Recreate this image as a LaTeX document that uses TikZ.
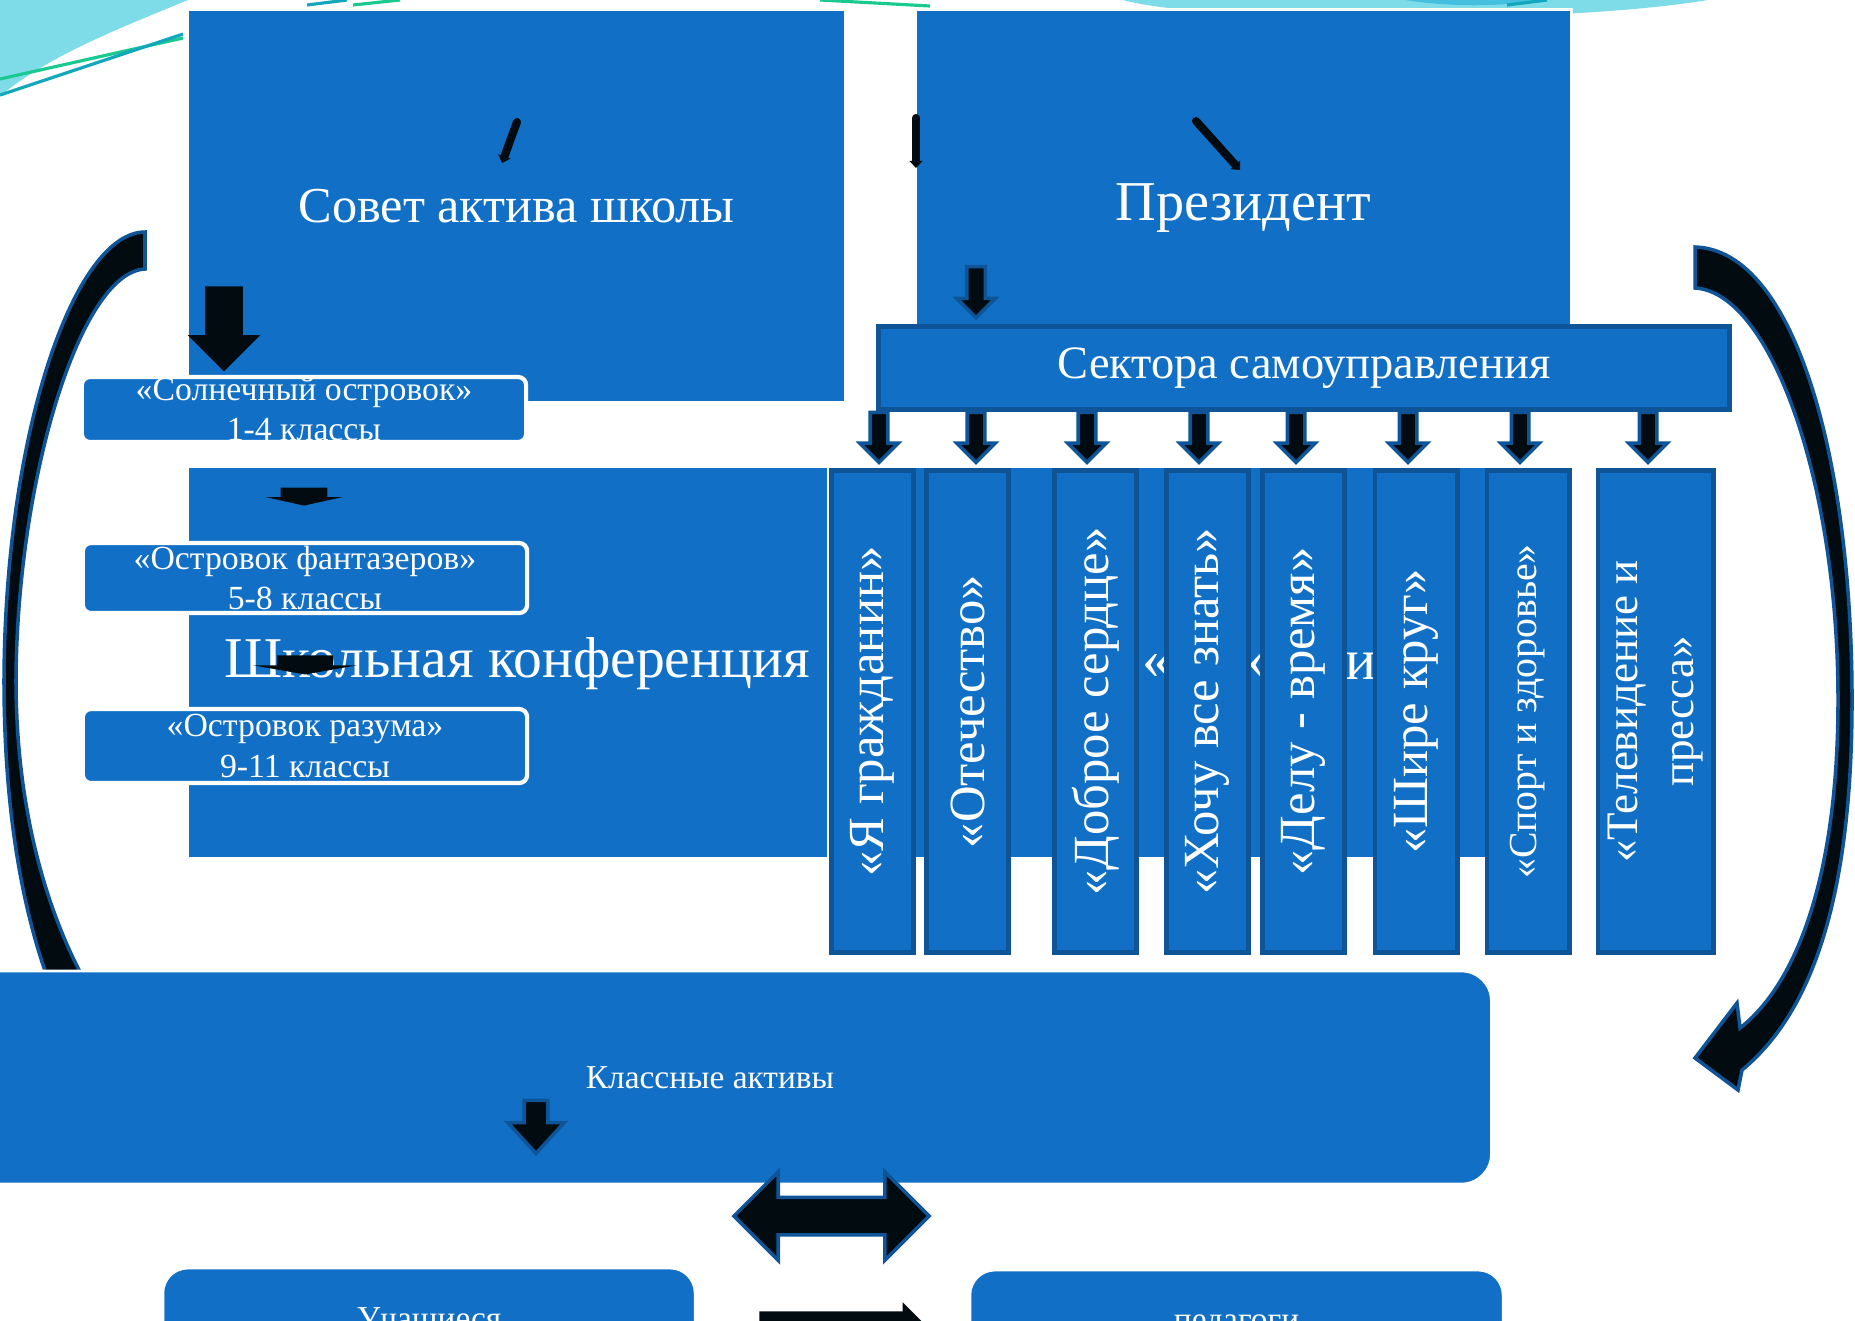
\documentclass[tikz,border=0pt]{standalone}
\usepackage{fontspec}
\setmainfont{Liberation Serif}
\usepackage{xcolor}
\usepackage{tikz}
\usetikzlibrary{shapes,arrows}
\usetikzlibrary{positioning}
\usetikzlibrary{arrows.meta}
\tikzset{>=stealth}
\definecolor{panelblue}{HTML}{1170C6}
\definecolor{edgeblue}{HTML}{0F5496}
\definecolor{arrowblack}{HTML}{020B10}
\definecolor{swoosh}{HTML}{7EDCE8}
\definecolor{swooshdark}{HTML}{45BFE0}
\definecolor{linegreen}{HTML}{19C98F}
\definecolor{lineteal}{HTML}{12A7BC}
\tikzstyle{panel} = [draw=white, line width=0.8pt, fill=panelblue, text=white,
inner sep=0pt, align=center]
\tikzstyle{line} = [draw=arrowblack, line width=2.3pt, line cap=round,
-{Triangle[width=3.6pt,length=2pt]}]

\begin{document}
\begin{tikzpicture}[x=0.01cm, y=-0.01cm,
  island/.style={panel, line width=1.2pt, rounded corners=0.08cm,
  minimum width=4.44cm, font=\fontsize{9.6pt}{11.4pt}\selectfont},
  sectorbar/.style={panel, draw=edgeblue, line width=1.4pt, rotate=90,
  minimum width=4.81cm, minimum height=0.82cm,
  font=\fontsize{14.4pt}{16pt}\selectfont},
  blockdown/.style={single arrow, rotate=-90, inner xsep=0pt,
  fill=arrowblack, draw=edgeblue, line width=1pt, single arrow tip angle=90},
  sectordown/.style={blockdown, minimum height=0.5cm, minimum width=0.35cm,
  inner ysep=0.07cm, single arrow head extend=0.105cm},
  bigfont/.style={font=\fontsize{16.4pt}{19pt}\selectfont}]
  \useasboundingbox (0,0) rectangle (1855,1320);
  \clip (0,0) rectangle (1855,1320);
  \fill [white] (0,0) rectangle (1855,1320);
  %% Background swooshes
  \fill [swoosh] (0,0) -- (188,0) .. controls (120,28) and (50,55) .. (0,96) -- cycle;
  \fill [swoosh] (1123,0) .. controls (1200,22) and (1550,26) .. (1708,0) -- cycle;
  \fill [swooshdark] (1405,0) .. controls (1450,7) and (1500,7) .. (1540,0) -- cycle;
  \draw [linegreen, line width=0.9pt] (0,79) -- (183,38);
  \draw [lineteal, line width=0.9pt] (0,95) -- (183,34);
  \draw [lineteal, line width=0.9pt] (307,5) -- (347,0);
  \draw [linegreen, line width=0.9pt] (353,5) -- (400,0);
  \draw [linegreen, line width=0.9pt] (820,0) -- (930,6);
  \draw [lineteal, line width=0.9pt] (1507,5) -- (1547,0);
  %% Top panels
  \node [panel, minimum width=6.57cm, minimum height=3.92cm,
  font=\fontsize{14.3pt}{17pt}\selectfont] (sovet) at (516.5,206)
  {Совет актива школы};
  \node [panel, minimum width=6.55cm, minimum height=3.96cm,
  font=\fontsize{16pt}{19pt}\selectfont] (prez) at (1243.5,208)
  {Президент};
  \coordinate (sovet_a) at (517,122);
  \coordinate (sovet_b) at (502,163);
  \coordinate (prez_a) at (916,118);
  \coordinate (prez_b) at (916,168);
  \coordinate (prez_c) at (1196,121);
  \coordinate (prez_d) at (1240,170);
  \path [line] (sovet_a) to (sovet_b);
  \path [line] (prez_a) to (prez_b);
  \path [line] (prez_c) to (prez_d);
  %% Islands
  \node [blockdown, draw=none, minimum height=0.85cm, minimum width=0.69cm,
  inner ysep=0.17cm, single arrow head extend=0.175cm] (down_0) at (224,319.5) {};
  \node [island, minimum height=0.65cm] (isl_1) at (304,409.5)
  {«Солнечный островок»\\1-4 классы};
  \node [panel, minimum width=6.41cm, minimum height=3.91cm]
  (konf) at (508.5,662.5) {};
  \node [panel, minimum width=7.43cm, minimum height=3.91cm]
  (konf_2) at (1200.5,662.5) {};
  \node [text=white, bigfont, inner sep=0pt] (konf_text) at (517,664)
  {Школьная конференция};
  \node [blockdown, draw=none, single arrow tip angle=155,
  minimum height=0.18cm, minimum width=0.74cm, inner ysep=0.215cm,
  single arrow head extend=0.155cm] (down_1) at (304,494) {};
  \node [island, minimum height=0.7cm] (isl_2) at (305,578)
  {«Островок фантазеров»\\5-8 классы};
  \node [blockdown, draw=none, single arrow tip angle=160,
  minimum height=0.19cm, minimum width=1cm, inner ysep=0.26cm,
  single arrow head extend=0.24cm] (down_2) at (305,662.5) {};
  \node [island, minimum height=0.74cm] (isl_3) at (305,746)
  {«Островок разума»\\9-11 классы};
  \node [text=white, bigfont] (frag_1) at (1157,666) {«};
  \node [text=white, bigfont] (frag_2) at (1262,666) {«};
  \node [text=white, bigfont] (frag_3) at (1361,666) {и};
  %% Sectors
  \node [panel, draw=edgeblue, line width=1.4pt, minimum width=8.5cm,
  minimum height=0.83cm, font=\fontsize{13.2pt}{16pt}\selectfont]
  (sektor) at (1304,368) {Сектора самоуправления};
  \node [blockdown, minimum height=0.51cm, minimum width=0.35cm,
  inner ysep=0.075cm, single arrow head extend=0.1cm] (down_p) at (976,287.5) {};
  \node [sectordown] (down_s1) at (879,433) {};
  \node [sectordown] (down_s2) at (976,433) {};
  \node [sectordown] (down_s3) at (1087,433) {};
  \node [sectordown] (down_s4) at (1199,433) {};
  \node [sectordown] (down_s5) at (1296,433) {};
  \node [sectordown] (down_s6) at (1408,433) {};
  \node [sectordown] (down_s7) at (1520,433) {};
  \node [sectordown] (down_s8) at (1648,433) {};
  \node [sectorbar] (bar_1) at (872.5,711.5) {«Я гражданин»};
  \node [sectorbar] (bar_2) at (967.5,711.5) {«Отечество»};
  \node [sectorbar] (bar_3) at (1095.5,711.5) {«Доброе сердце»};
  \node [sectorbar] (bar_4) at (1207.5,711.5) {«Хочу все знать»};
  \node [sectorbar] (bar_5) at (1303.5,711.5) {«Делу - время»};
  \node [sectorbar] (bar_6) at (1416,711.5) {«Шире круг»};
  \node [sectorbar, font=\fontsize{11.3pt}{14pt}\selectfont]
  (bar_7) at (1528,711.5) {«Спорт и здоровье»};
  \node [sectorbar, minimum height=1.15cm,
  font=\fontsize{12.8pt}{16pt}\selectfont]
  (bar_8) at (1655.5,711.5) {«Телевидение и\\пресса»};
  %% Curved arrows
  \filldraw [fill=arrowblack, draw=edgeblue, line width=1pt]
  (145,232) .. controls (75,232) and (5,430) .. (4,680)
  .. controls (4,820) and (25,920) .. (52,990) -- (90,990)
  .. controls (52,925) and (16,820) .. (16,680)
  .. controls (17,480) and (80,272) .. (145,269) -- cycle;
  \filldraw [fill=arrowblack, draw=edgeblue, line width=1pt]
  (1695,247) .. controls (1795,250) and (1852,460) .. (1852,700)
  .. controls (1852,890) and (1815,1010) .. (1742,1070)
  -- (1738,1090) -- (1695,1058) -- (1737,1003) -- (1740,1028)
  .. controls (1795,985) and (1838,880) .. (1838,700)
  .. controls (1838,480) and (1770,292) .. (1695,288) -- cycle;
  %% Class level
  \node [panel, rounded corners=0.3cm, minimum width=15.62cm,
  minimum height=2.13cm, font=\fontsize{9.5pt}{11pt}\selectfont]
  (klass) at (710,1077.5) {Классные активы};
  \node [blockdown, minimum height=0.53cm, minimum width=0.53cm,
  inner ysep=0.1cm, single arrow head extend=0.165cm, single arrow tip angle=85]
  (down_k) at (536,1120.5) {};
  \node [double arrow, fill=arrowblack, draw=edgeblue, line width=1pt,
  inner xsep=0pt, inner ysep=0.17cm, double arrow tip angle=90,
  minimum height=1.95cm, minimum width=0.85cm, double arrow head extend=0.255cm]
  (swap) at (831.5,1216) {};
  \node [panel, rounded corners=0.25cm, minimum width=5.32cm,
  minimum height=1.08cm, font=\fontsize{9.5pt}{11pt}\selectfont]
  (uch) at (429,1322) {Учащиеся};
  \node [panel, rounded corners=0.25cm, minimum width=5.33cm,
  minimum height=1.12cm, font=\fontsize{9.5pt}{11pt}\selectfont]
  (ped) at (1236.5,1326) {педагоги};
  \node [single arrow, fill=arrowblack, inner xsep=0pt, inner ysep=0.16cm,
  single arrow tip angle=90, minimum height=1.69cm, minimum width=0.5cm,
  single arrow head extend=0.09cm] (to_ped) at (835.5,1328) {};
\end{tikzpicture}
\end{document}
